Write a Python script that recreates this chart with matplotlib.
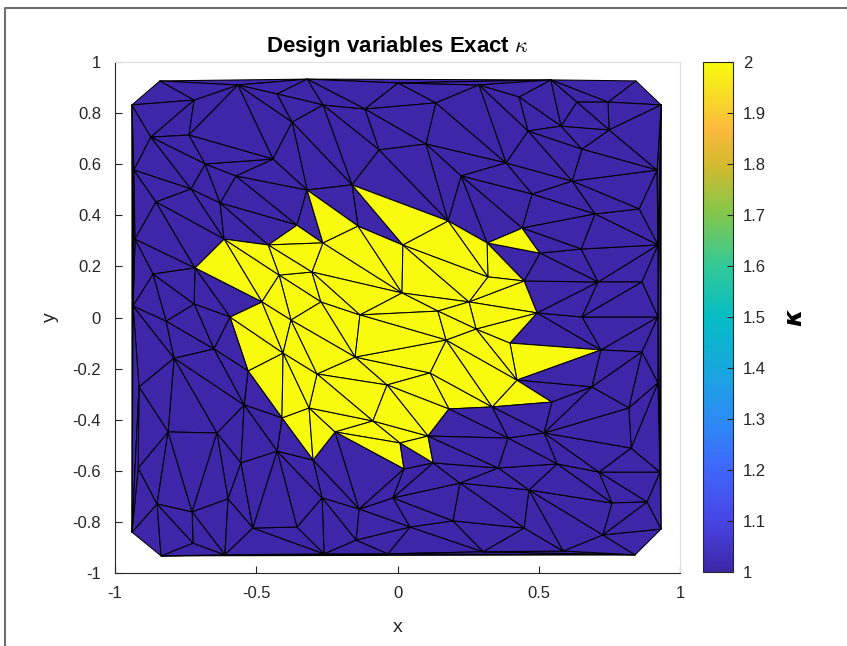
import numpy as np
import matplotlib
matplotlib.use("Agg")
import matplotlib.pyplot as plt
import matplotlib.tri as mtri
from matplotlib.path import Path
from matplotlib.colors import LinearSegmentedColormap
from matplotlib.lines import Line2D

plt.rcParams["font.family"] = ["Liberation Sans", "DejaVu Sans"]
plt.rcParams["mathtext.fontset"] = "cm"

# ---- mesh nodes on the outer boundary of the domain ----
boundary_x = [-0.940, -0.841, -0.320, 0.543, 0.844, 0.933, 0.919, 0.922, 0.922, 0.922,
              0.929, 0.933, 0.841, 0.586, 0.303, -0.034, -0.260, -0.611, -0.837, -0.940,
              -0.929, -0.936, -0.933]
boundary_y = [0.832, 0.926, 0.933, 0.930, 0.926, 0.832, 0.577, 0.284, 0.002, -0.256,
              -0.605, -0.828, -0.929, -0.914, -0.917, -0.925, -0.925, -0.929, -0.933, -0.840,
              0.307, 0.045, 0.577]

# ---- interior mesh nodes ----
interior_x = [-0.720, -0.873, -0.738, -0.681, -0.441, -0.373, -0.426, -0.565, -0.572, -0.731,
              -0.628, -0.855,
              -0.264, -0.115, 0.002, 0.136, 0.288, -0.065, 0.101, 0.225,
              0.430, 0.635, 0.745, 0.579, 0.749, 0.462, 0.653, 0.384, 0.618, 0.476,
              0.855, 0.699,
              -0.865, -0.419, -0.720, -0.377, -0.819, -0.650, -0.405, -0.791, -0.915, -0.543,
              -0.303, 0.016, -0.271, -0.133, 0.143, 0.253, 0.320, 0.278, 0.172, -0.150,
              0.115, -0.285, -0.037, -0.313, -0.087,
              0.650, 0.710, 0.865, 0.653, 0.865, 0.688,
              -0.812, -0.639, -0.918, -0.554, -0.426, -0.851, -0.727, -0.600, -0.724, -0.512,
              -0.356,
              -0.267, -0.136, -0.016, 0.221, 0.196, 0.044, -0.147,
              0.335, 0.391, 0.519, 0.819, 0.827, 0.565, 0.356, 0.713, 0.465, 0.759,
              0.883, 0.448, 0.727]
interior_y = [0.851, 0.706, 0.714, 0.601, 0.620, 0.765, 0.875, 0.910, 0.554, 0.503,
              0.448, 0.452,
              0.832, 0.816, 0.918, 0.840, 0.910, 0.656, 0.679, 0.554,
              0.863, 0.843, 0.843, 0.749, 0.734, 0.730, 0.659, 0.605, 0.534, 0.483,
              0.425, 0.405,
              0.170, 0.166, 0.053, -0.010, -0.014, -0.123, -0.139, -0.159, -0.272, -0.342,
              0.178, 0.096, 0.061, 0.010, 0.025, 0.061, 0.159, -0.045, -0.088, -0.155,
              -0.217, -0.221, -0.264, -0.354, -0.405,
              0.268, 0.139, 0.139, 0.002, -0.135, -0.272,
              -0.448, -0.452, -0.589, -0.569, -0.523, -0.730, -0.761, -0.710, -0.883, -0.824,
              -0.820,
              -0.706, -0.750, -0.706, -0.648, -0.796, -0.820, -0.871,
              -0.350, -0.472, -0.452, -0.354, -0.511, -0.573, -0.589, -0.605, -0.675, -0.726,
              -0.722, -0.824, -0.851]

# ---- outline of the inclusion (kappa = 2), vertices in order ----
inclusion_x = [-0.717, -0.614, -0.458, -0.356, -0.264, -0.320, -0.140, 0.019, -0.161, 0.179,
               0.317, 0.448, 0.494, 0.398, 0.720, 0.423, 0.547, 0.182, 0.108, 0.126,
               0.009, 0.023, -0.221, -0.299, -0.409, -0.529, -0.593, -0.480]
inclusion_y = [0.194, 0.307, 0.284, 0.362, 0.292, 0.499, 0.358, 0.284, 0.519, 0.378,
               0.292, 0.143, 0.018, -0.100, -0.127, -0.245, -0.331, -0.358, -0.464, -0.569,
               -0.491, -0.593, -0.448, -0.558, -0.393, -0.209, 0.002, 0.061]

# small detached inclusion element
islet_x = [0.317, 0.441, 0.504]
islet_y = [0.292, 0.350, 0.252]

kappa_inside = 2.0
kappa_background = 1.0

# ---- parula-like colormap ----
parula_stops = [
    (0.000, (0.2422, 0.1504, 0.6603)),
    (0.100, (0.2780, 0.2700, 0.9000)),
    (0.200, (0.2500, 0.4000, 0.9900)),
    (0.300, (0.1700, 0.5500, 0.9600)),
    (0.400, (0.0900, 0.6600, 0.8700)),
    (0.500, (0.0200, 0.7400, 0.7700)),
    (0.600, (0.2000, 0.7900, 0.6000)),
    (0.700, (0.5000, 0.7800, 0.3000)),
    (0.800, (0.8300, 0.7300, 0.1800)),
    (0.870, (0.9900, 0.7300, 0.2400)),
    (0.930, (0.9700, 0.8500, 0.1600)),
    (1.000, (0.9763, 0.9831, 0.0538)),
]
parula = LinearSegmentedColormap.from_list("parula", parula_stops, N=256)

# ---- assemble the mesh ----
nodes = np.column_stack([
    np.concatenate([boundary_x, interior_x, inclusion_x, islet_x]),
    np.concatenate([boundary_y, interior_y, inclusion_y, islet_y]),
])
nodes = np.unique(np.round(nodes, 3), axis=0)
tri = mtri.Triangulation(nodes[:, 0], nodes[:, 1])

centroids = np.column_stack([
    nodes[tri.triangles, 0].mean(axis=1),
    nodes[tri.triangles, 1].mean(axis=1),
])
in_main = Path(np.column_stack([inclusion_x, inclusion_y])).contains_points(centroids)
in_islet = Path(np.column_stack([islet_x, islet_y])).contains_points(centroids)
kappa = np.where(in_main | in_islet, kappa_inside, kappa_background)

# ---- figure ----
W, H = 847, 646
fig = plt.figure(figsize=(W / 100, H / 100), dpi=100)
ax = fig.add_axes([115 / W, 1 - 573 / H, 565 / W, 511 / H])

grid_col = "#dedede"
ax.set_axisbelow(True)
ax.grid(True, color=grid_col, linewidth=0.8)

tpc = ax.tripcolor(tri, facecolors=kappa, cmap=parula, vmin=1, vmax=2,
                   edgecolors="black", linewidth=0.75)

ax.set_xlim(-1, 1)
ax.set_ylim(-1, 1)
xt = [-1, -0.5, 0, 0.5, 1]
yt = np.round(np.arange(-1, 1.001, 0.2), 1)
ax.set_xticks(xt)
ax.set_xticklabels(["-1", "-0.5", "0", "0.5", "1"])
ax.set_yticks(yt)
ax.set_yticklabels(["-1", "-0.8", "-0.6", "-0.4", "-0.2", "0",
                    "0.2", "0.4", "0.6", "0.8", "1"])
ax.tick_params(direction="in", length=5, width=0.8, color="#262626",
               labelsize=12, labelcolor="#262626")
ax.tick_params(axis="x", pad=9)
ax.tick_params(axis="y", pad=10)
for side in ("left", "bottom"):
    ax.spines[side].set_color("#262626")
    ax.spines[side].set_linewidth(0.8)
for side in ("top", "right"):
    ax.spines[side].set_color(grid_col)
    ax.spines[side].set_linewidth(0.8)

ax.set_xlabel("x", fontsize=14, color="#262626", labelpad=13)
ax.set_ylabel("y", fontsize=14, color="#262626", labelpad=10)
ax.set_title(r"Design variables Exact $\kappa$", fontsize=16, fontweight="bold",
             color="black", pad=7)

# ---- colorbar ----
cax = fig.add_axes([703 / W, 1 - 572 / H, 30 / W, 510 / H])
cb = fig.colorbar(tpc, cax=cax)
cb.set_ticks(np.round(np.arange(1, 2.001, 0.1), 1))
cb.set_ticklabels(["1", "1.1", "1.2", "1.3", "1.4", "1.5", "1.6", "1.7", "1.8", "1.9", "2"])
cax.tick_params(direction="in", length=4, width=0.8, color="#262626",
                labelsize=12, labelcolor="#262626", pad=7)
cb.outline.set_edgecolor("#262626")
cb.outline.set_linewidth(0.8)
cb.set_label("κ", fontsize=18, fontweight="bold", style="italic",
             family=["DejaVu Sans"], rotation=90, labelpad=12)

# ---- frame around the figure ----
fig.add_artist(Line2D([5 / W, 5 / W, 1.0], [0.0, 1 - 8 / H, 1 - 8 / H],
                      transform=fig.transFigure, color="#6e6e6e", linewidth=1.5))

fig.savefig("out.png", dpi=100)
